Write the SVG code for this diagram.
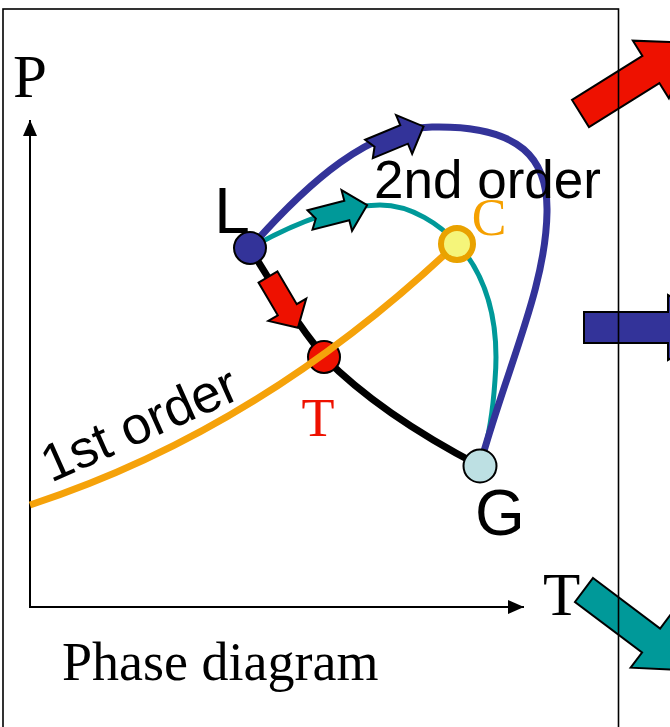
<svg xmlns="http://www.w3.org/2000/svg" width="670" height="727" viewBox="0 0 670 727">
<style>
.serif{font-family:"Liberation Serif","Times New Roman",serif}
.sans{font-family:"Liberation Sans",Arial,sans-serif}
.ar{stroke:#000;stroke-width:2;stroke-linejoin:miter}
.node{stroke:#000;stroke-width:2}
.curve{fill:none;stroke-linecap:butt}
</style>
<defs>
<path id="notch" d="M0,-10 H38 V-21 L59,0 L38,21 V10 H0 L6,0 Z"/>
<path id="plain" d="M0,-11 H38 V-22 L59,0 L38,22 V11 H0 Z"/>
<marker id="axh" viewBox="0 0 16 14" refX="16" refY="7" markerWidth="16" markerHeight="14" markerUnits="userSpaceOnUse" orient="auto">
<path d="M0,0 L16,7 L0,14 Z" fill="#000"/>
</marker>
</defs>
<rect width="670" height="727" fill="#fff"/>

<g id="big-arrows">
<path class="ar" fill="#ee1100" transform="translate(580.5,113.5) rotate(-32)" d="M0,-16 H83 V-34 L133,0 L83,34 V16 H0 Z"/>
<path class="ar" fill="#333399" transform="translate(584,327.5)" d="M0,-15.5 H84 V-32.5 L134,0 L84,32.5 V15.5 H0 Z"/>
<path class="ar" fill="#009999" transform="translate(584,590) rotate(37)" d="M0,-15 H84 V-34 L134,0 L84,34 V15 H0 Z"/>
</g>

<rect id="frame" x="3" y="9" width="615.5" height="730" fill="none" stroke="#000" stroke-width="1.6"/>

<g id="axes" stroke="#000" stroke-width="2" fill="none">
<path d="M30,608 V120" marker-end="url(#axh)"/>
<path d="M29,607 H524" marker-end="url(#axh)"/>
</g>

<g id="connectors">
<path class="curve" d="M250,248 Q284,306 324,357 Q380,414 480,466" stroke="#000" stroke-width="7"/>
<path class="curve" d="M250,248 C300,220 345,205 380,205 C412,205 440,225 458,244 C485,275 500,320 495,380 C493,410 488,440 482,458" stroke="#009999" stroke-width="5"/>
<path class="curve" d="M250,248 C310,180 370,128 432,127 C522,125 548,160 547,212 C546,285 510,360 482,458" stroke="#333399" stroke-width="7"/>
</g>

<g id="T">
<circle class="node" cx="324" cy="357" r="16" fill="#ee1100"/>
<text class="serif" x="318" y="436" font-size="54" fill="#ee1100" text-anchor="middle">T</text>
</g>

<g id="first-order">
<path class="curve" d="M30,505 Q260,430 456,244" stroke="#f5a20a" stroke-width="7"/>
<text class="sans" font-size="53" transform="translate(51,483) rotate(-24)">1st order</text>
</g>

<g id="C">
<circle cx="457" cy="244" r="16" fill="#f5f57a" stroke="#e9a200" stroke-width="6"/>
<text class="serif" x="489" y="235" font-size="52" fill="#f5a000" text-anchor="middle">C</text>
</g>

<g id="L">
<circle class="node" cx="250" cy="248" r="16" fill="#333399"/>
<text class="sans" x="232" y="233" font-size="64" text-anchor="middle">L</text>
</g>

<g id="G">
<circle class="node" cx="480" cy="466" r="16.5" fill="#bde0e3"/>
<text class="sans" x="500" y="535" font-size="64" text-anchor="middle">G</text>
</g>

<g id="small-arrows">
<use href="#notch" class="ar" fill="#333399" transform="translate(369,149) rotate(-22.5)"/>
<use href="#notch" class="ar" fill="#009999" transform="translate(310,220) rotate(-14.5)"/>
<use href="#plain" class="ar" fill="#ee1100" transform="translate(268,277) rotate(59.5)"/>
</g>

<text class="sans" x="374" y="198" font-size="53">2nd order</text>
<text class="serif" x="13" y="97" font-size="61">P</text>
<text class="serif" x="543" y="615" font-size="61">T</text>
<text class="serif" x="62" y="680" font-size="54">Phase diagram</text>
</svg>
